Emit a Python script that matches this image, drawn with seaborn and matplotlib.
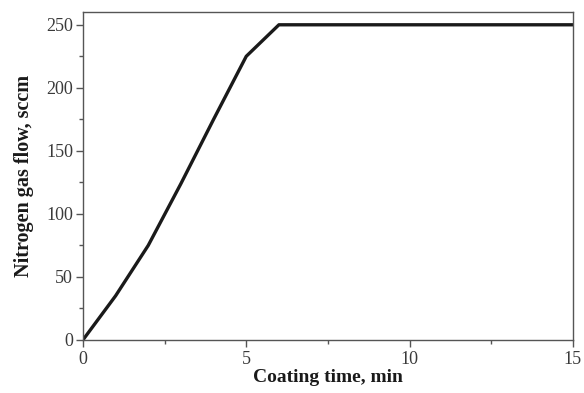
import numpy as np
import pandas as pd
import seaborn as sns
import matplotlib.pyplot as plt
from matplotlib.ticker import MultipleLocator

# coating time (min) vs nitrogen flow (sccm)
time_min = [0, 1, 2, 3, 4, 5, 6, 7, 8, 9, 10, 11, 12, 13, 14, 15]
n2_flow = [0, 35, 75, 124, 175, 225, 250, 250, 250, 250, 250, 250, 250, 250, 250, 250]

df = pd.DataFrame({"time": time_min, "flow": n2_flow})

sns.set_theme(style="ticks")
plt.rcParams["font.family"] = ["Liberation Serif", "DejaVu Serif"]

fig = plt.figure(figsize=(5.84, 3.93), dpi=100)
ax = fig.add_axes([0.142, 0.135, 0.839, 0.834])

sns.lineplot(data=df, x="time", y="flow", ax=ax, color="#1a1a1a", linewidth=2.4)

ax.set_xlim(0, 15)
ax.set_ylim(0, 260)
ax.xaxis.set_major_locator(MultipleLocator(5))
ax.xaxis.set_minor_locator(MultipleLocator(2.5))
ax.yaxis.set_major_locator(MultipleLocator(50))
ax.yaxis.set_minor_locator(MultipleLocator(25))
ax.tick_params(which="both", direction="out", colors="#555555", labelcolor="#3a3a3a",
               labelsize=13, width=1.0)
ax.tick_params(which="major", length=5, pad=2)
ax.tick_params(which="minor", length=3)
ax.tick_params(axis="x", which="major", pad=3)
for s in ax.spines.values():
    s.set_color("#555555")
    s.set_linewidth(1.0)

ax.set_xlabel("Coating time, min", fontsize=14, fontweight="bold", labelpad=1,
              color="#1a1a1a")
ax.set_ylabel("Nitrogen gas flow, sccm", fontsize=14.5, fontweight="bold", labelpad=9,
              color="#1a1a1a")

fig.savefig("out.png", dpi=100)
